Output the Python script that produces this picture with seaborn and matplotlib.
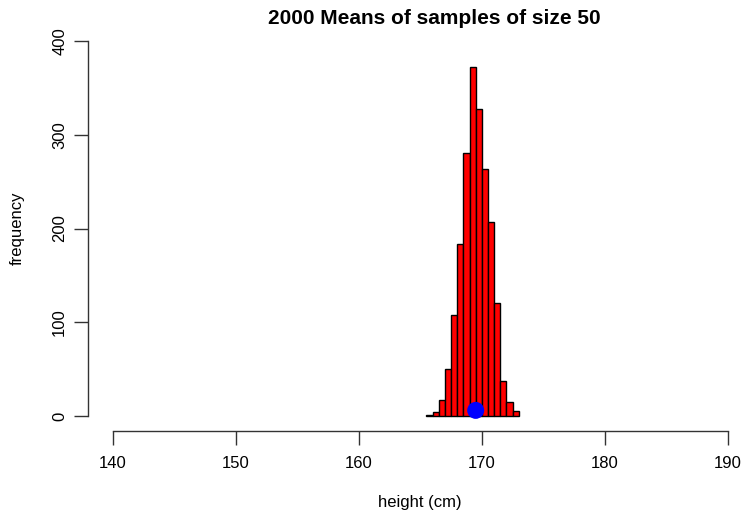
import matplotlib
matplotlib.use("Agg")
import matplotlib.pyplot as plt
import seaborn as sns
import numpy as np

sns.set_style("white")
plt.rcParams['font.family'] = ['Liberation Sans', 'DejaVu Sans']
plt.rcParams['text.color'] = 'black'
plt.rcParams['xtick.color'] = 'black'
plt.rcParams['ytick.color'] = 'black'

bin_edges = [165.5, 166.0, 166.5, 167.0, 167.5, 168.0, 168.5, 169.0, 169.5,
             170.0, 170.5, 171.0, 171.5, 172.0, 172.5, 173.0]
counts = [1, 4, 17, 50, 108, 184, 281, 372, 327, 263, 207, 121, 37, 15, 5]
mean_point = (169.5, 6)
x_ticks = [140, 150, 160, 170, 180, 190]
y_ticks = [0, 100, 200, 300, 400]

centers = [(a + b) / 2 for a, b in zip(bin_edges[:-1], bin_edges[1:])]

fig = plt.figure(figsize=(7.44, 5.14), dpi=100)
W, H = 744, 514
left, right, top, bottom = 88, 752.6, 26, 431
ax = fig.add_axes([left / W, 1 - bottom / H, (right - left) / W, (bottom - top) / H])

sns.histplot(x=centers, weights=counts, bins=bin_edges, ax=ax,
             color="#ff0000", edgecolor="black", linewidth=1, alpha=1)
ax.scatter([mean_point[0]], [mean_point[1]], s=150, color="#0000ff", zorder=5,
           edgecolors="none")

ax.set_xlim(138, 192)
ax.set_ylim(-16, 416)
ax.set_xticks(x_ticks)
ax.set_yticks(y_ticks)
ax.set_yticklabels([str(v) for v in y_ticks], rotation=90, va="center")
for s in ["top", "right"]:
    ax.spines[s].set_visible(False)
for s in ["bottom", "left"]:
    ax.spines[s].set_color("#333333")
    ax.spines[s].set_linewidth(1)
ax.spines["bottom"].set_bounds(140, 190)
ax.spines["left"].set_bounds(0, 400)
ax.tick_params(axis="both", direction="out", length=10, width=1, color="#333333",
               labelcolor="black", labelsize=12, pad=8, bottom=True, left=True)
ax.tick_params(axis="y", pad=5)
ax.set_xlabel("")
ax.set_ylabel("")
ax.patch.set_alpha(0)

fig.text(434 / W, 1 - 18 / H, "2000 Means of samples of size 50", ha="center",
         va="center", fontsize=15, fontweight="bold", color="black")
fig.text(420 / W, 1 - 503 / H, "height (cm)", ha="center", va="center", fontsize=12,
         color="black")
fig.text(17 / W, 1 - 228 / H, "frequency", ha="center", va="center", fontsize=12,
         rotation=90, color="black")

fig.savefig("out.png", dpi=100)
